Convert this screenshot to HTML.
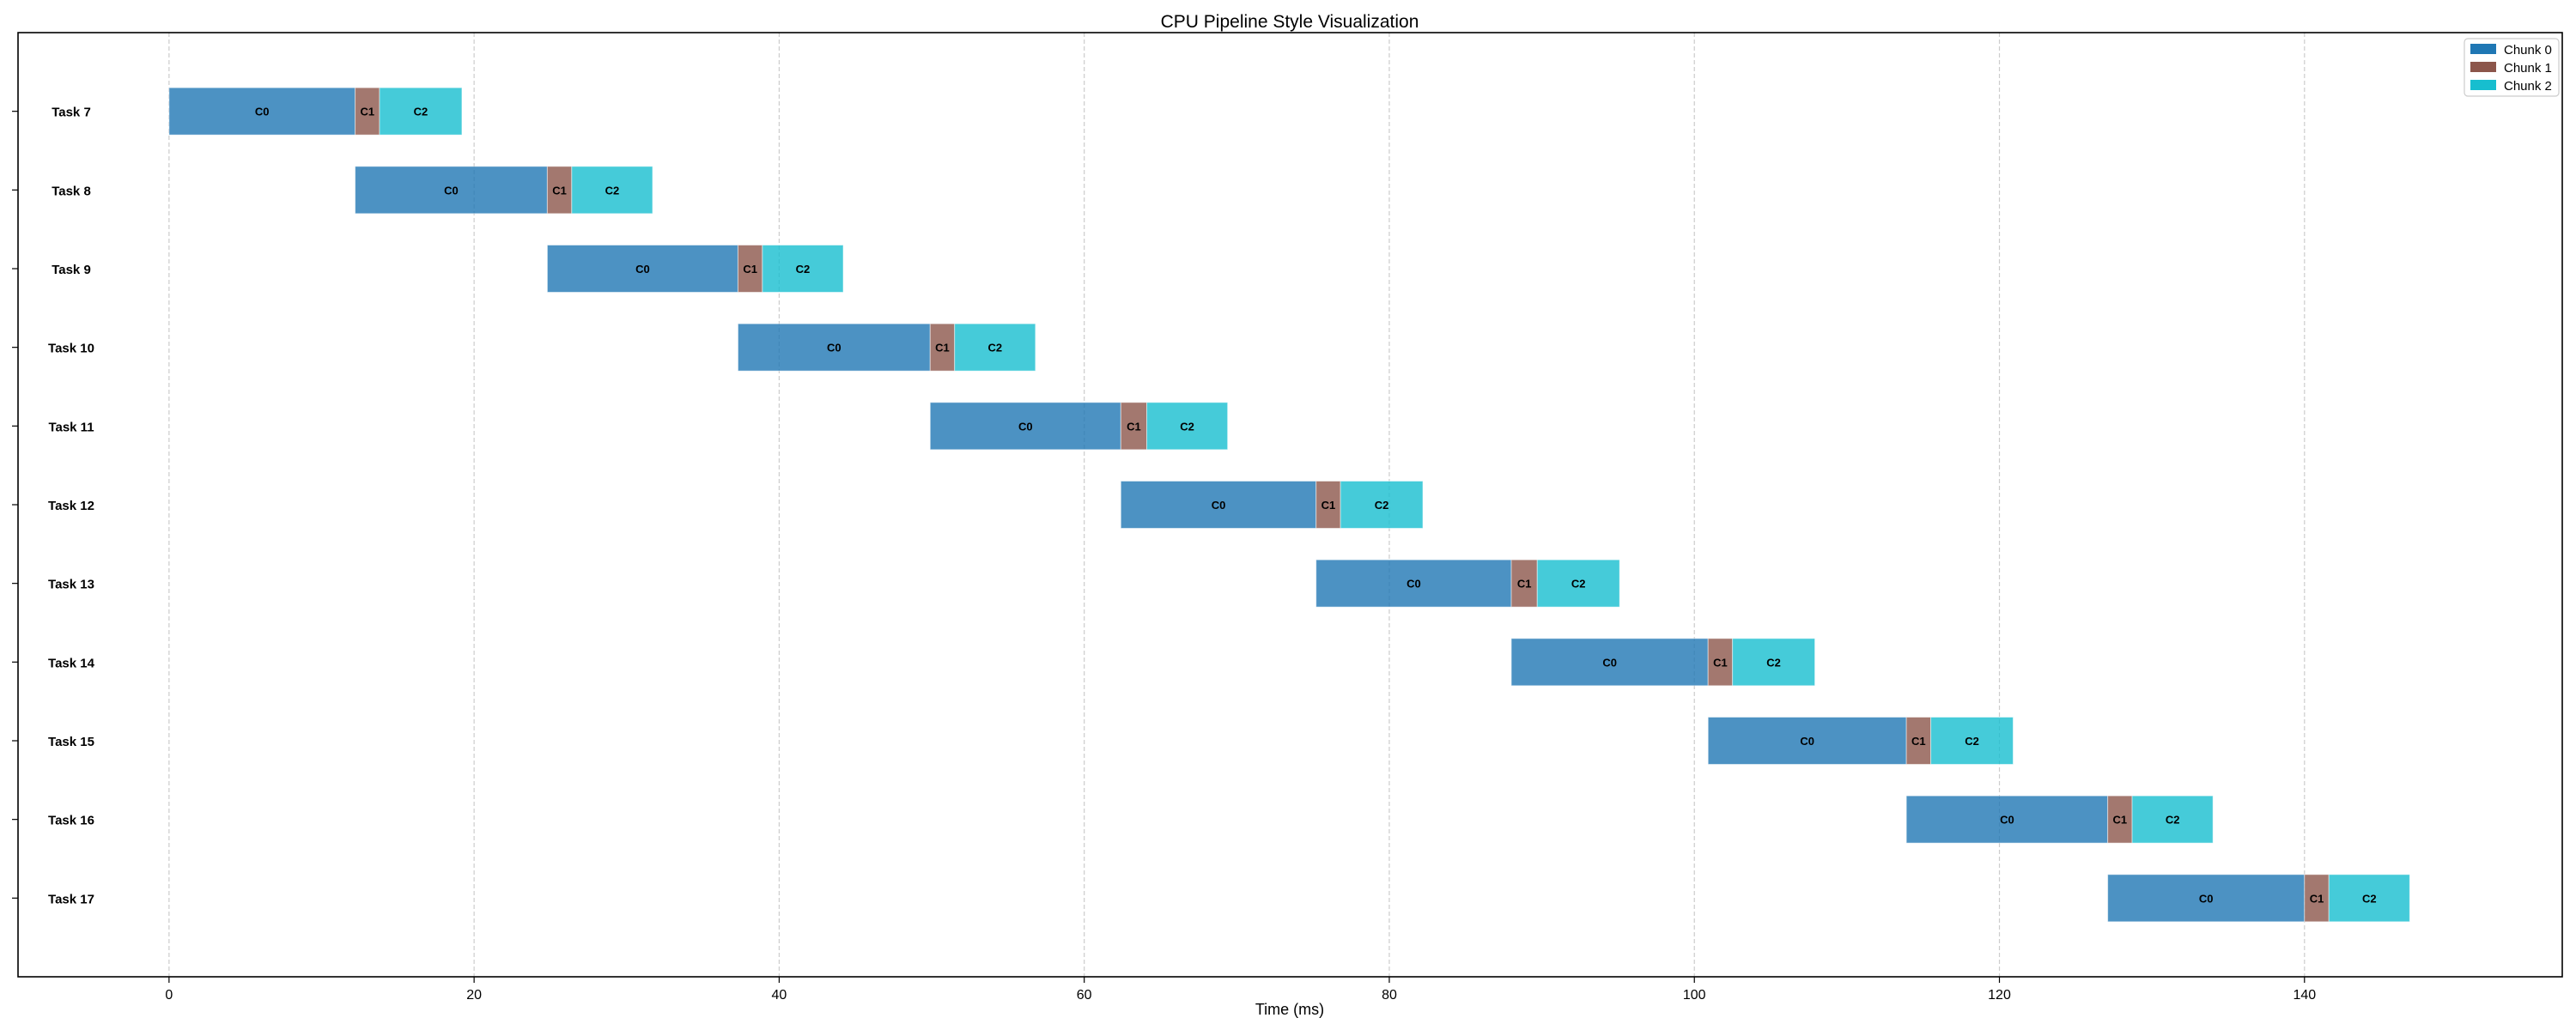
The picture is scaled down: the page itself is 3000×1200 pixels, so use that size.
<!DOCTYPE html>
<html><head><meta charset="utf-8"><style>
html,body{margin:0;padding:0;background:#fff;}
svg{display:block;font-family:"Liberation Sans","DejaVu Sans",sans-serif;}
</style></head><body>
<svg id="chart" width="3000" height="1200" viewBox="0 0 3000 1200" xmlns="http://www.w3.org/2000/svg">
<rect x="0" y="0" width="3000" height="1200" fill="#fff"/>
<text x="1502" y="32" text-anchor="middle" font-size="21" fill="#000">CPU Pipeline Style Visualization</text>
<g id="grid"></g>
<g id="bars"></g>
<g id="yaxis"></g>
<g id="xaxis"></g>
<rect x="21" y="38" width="2963" height="1100" fill="none" stroke="#000" stroke-width="1.6"/>
<text x="1502" y="1182" text-anchor="middle" font-size="18" fill="#000">Time (ms)</text>
<g>
<rect x="2870" y="45" width="110" height="67" rx="4" fill="#fff" fill-opacity="0.8" stroke="#ccc" stroke-width="1.2"/>
<rect x="2877" y="51" width="30" height="12" fill="#1f77b4"/>
<text x="2916" y="63" font-size="15">Chunk 0</text>
<rect x="2877" y="72" width="30" height="12" fill="#8c564b"/>
<text x="2916" y="84" font-size="15">Chunk 1</text>
<rect x="2877" y="93" width="30" height="12" fill="#17becf"/>
<text x="2916" y="105" font-size="15">Chunk 2</text>
</g>
</svg>
<script>
const tasks = ["Task 7","Task 8","Task 9","Task 10","Task 11","Task 12","Task 13","Task 14","Task 15","Task 16","Task 17"];
const c0Start = [0, 12.2, 24.8, 37.3, 49.9, 62.4, 75.2, 88.0, 100.9, 113.9, 127.1];
const c1Start = [12.2, 24.8, 37.3, 49.9, 62.4, 75.2, 88.0, 100.9, 113.9, 127.1, 140.0];
const c2Start = [13.8, 26.4, 38.9, 51.5, 64.1, 76.8, 89.7, 102.5, 115.5, 128.7, 141.6];
const c2End = [19.2, 31.7, 44.2, 56.8, 69.4, 82.2, 95.1, 107.9, 120.9, 134.0, 146.9];
const xTicks = [0, 20, 40, 60, 80, 100, 120, 140];

const NS = "http://www.w3.org/2000/svg";
const L = 21, R = 2984, T = 38, B = 1138;
const xMin = -9.9, xMax = 156.9;
const X = v => L + (v - xMin) / (xMax - xMin) * (R - L);
const Y = i => T + (i + 1) / (tasks.length + 1) * (B - T);
const bandH = (B - T) / (tasks.length + 1) * 0.6;
function mk(tag, attrs, parent) {
  const e = document.createElementNS(NS, tag);
  for (const k in attrs) e.setAttribute(k, attrs[k]);
  parent.appendChild(e); return e;
}
const grid = document.getElementById('grid');
const xaxis = document.getElementById('xaxis');
xTicks.forEach(t => {
  const x = X(t);
  const g = mk('line', {x1:x, x2:x, y1:T, y2:B, stroke:'#ccc', 'stroke-width':1.2, 'stroke-dasharray':'5,3'}, grid);
  
  
  const tk = mk('line', {x1:x, x2:x, y1:B, y2:B+7, stroke:'#000', 'stroke-width':1.2}, xaxis);
  
  
  const lb = mk('text', {x:x, y:B+26, 'text-anchor':'middle', 'font-size':16}, xaxis);
  lb.textContent = t;
  
  
});
const bars = document.getElementById('bars');
const yaxis = document.getElementById('yaxis');
const colors = ['#1f77b4', '#8c564b', '#17becf'];
const labels = ['C0', 'C1', 'C2'];
tasks.forEach((name, i) => {
  const yc = Y(i);
  const segs = [[c0Start[i], c1Start[i]], [c1Start[i], c2Start[i]], [c2Start[i], c2End[i]]];
  segs.forEach((s, j) => {
    const x0 = X(s[0]), x1 = X(s[1]);
    const r = mk('rect', {x:x0, y:yc - bandH/2, width:x1 - x0, height:bandH, fill:colors[j], 'fill-opacity':0.8, stroke:'#fff', 'stroke-opacity':0.5, 'stroke-width':1}, bars);
    
    
    const t = mk('text', {x:(x0 + x1)/2, y:yc + 5, 'text-anchor':'middle', 'font-size':13, 'font-weight':'bold'}, bars);
    t.textContent = labels[j];
    
    
  });
  const tk = mk('line', {x1:L-7, x2:L, y1:yc, y2:yc, stroke:'#000', 'stroke-width':1.2}, yaxis);
  
  
  const lb = mk('text', {x:83, y:yc + 6, 'text-anchor':'middle', 'font-size':15, 'font-weight':'bold'}, yaxis);
  lb.textContent = name;
  
  
});
</script>
</body></html>
